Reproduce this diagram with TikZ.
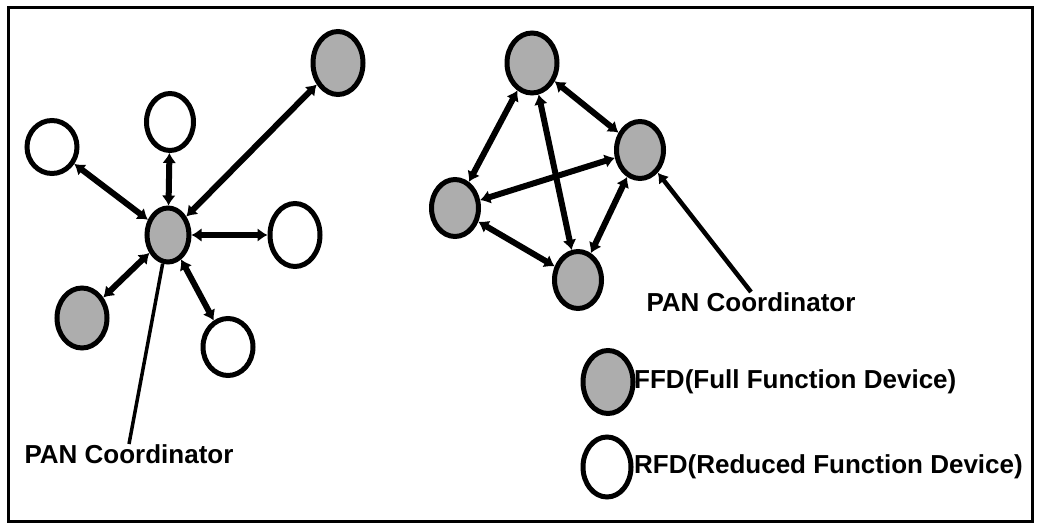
\documentclass[tikz,border=0pt]{standalone}
\usepackage{fontspec}
\setmainfont{Liberation Sans}
\usetikzlibrary{shapes.geometric,arrows.meta}
\begin{document}
\begin{tikzpicture}[x=1pt,y=-1pt,
  dev/.style={ellipse,draw,line width=5pt,inner sep=0pt},
  ffd/.style={dev,fill=black!32},
  rfd/.style={dev,fill=white},
  link/.style={line width=6pt,{Latex[length=10pt,width=14pt]}-{Latex[length=10pt,width=14pt]}},
  lead/.style={line width=3.5pt},
  lbl/.style={font=\fontsize{26}{28}\selectfont\bfseries,inner sep=0pt}
]
\useasboundingbox (0,0) rectangle (1041,529);
\draw[line width=3pt] (8,8) rectangle (1032,521);

% left star
\node[ffd,minimum width=42pt,minimum height=54pt] (c) at (168,235) {};
\node[ffd,minimum width=50pt,minimum height=63pt] (tr) at (338,63) {};
\node[rfd,minimum width=47pt,minimum height=57pt] (t) at (170,122) {};
\node[rfd,minimum width=50pt,minimum height=53pt] (l) at (52,147) {};
\node[rfd,minimum width=50pt,minimum height=63pt] (r) at (295,235) {};
\node[ffd,minimum width=50pt,minimum height=60pt] (bl) at (82,318) {};
\node[rfd,minimum width=50pt,minimum height=57pt] (b) at (228,347) {};
\foreach \n in {tr,t,l,r,bl,b} \draw[link] (c) -- (\n);
\node[lbl,anchor=north] (pan1) at (129,444) {PAN Coordinator};
\draw[lead] (c) -- (pan1.north);

% right mesh
\node[ffd,minimum width=50pt,minimum height=60pt] (mt) at (532,63) {};
\node[ffd,minimum width=47pt,minimum height=57pt] (mr) at (640,150) {};
\node[ffd,minimum width=47pt,minimum height=57pt] (ml) at (455,208) {};
\node[ffd,minimum width=47pt,minimum height=57pt] (mb) at (578,280) {};
\draw[link] (mt) -- (ml);
\draw[link] (mt) -- (mr);
\draw[link] (mt) -- (mb);
\draw[link] (mr) -- (ml);
\draw[link] (mr) -- (mb);
\draw[link] (ml) -- (mb);
\node[lbl,anchor=north] (pan2) at (751,292) {PAN Coordinator};
\draw[lead,line width=4.5pt,{Latex[length=10pt,width=13pt]}-] (mr) -- (pan2.north);

% legend
\node[ffd,minimum width=50pt,minimum height=63pt] (lf) at (608,382) {};
\node[lbl,anchor=west] (tf) at (634,382) {FFD(Full Function Device)};
\node[rfd,minimum width=48pt,minimum height=60pt] (lr) at (607,467) {};
\node[lbl,anchor=west] (tr2) at (634,467) {RFD(Reduced Function Device)};
\end{tikzpicture}
\end{document}
